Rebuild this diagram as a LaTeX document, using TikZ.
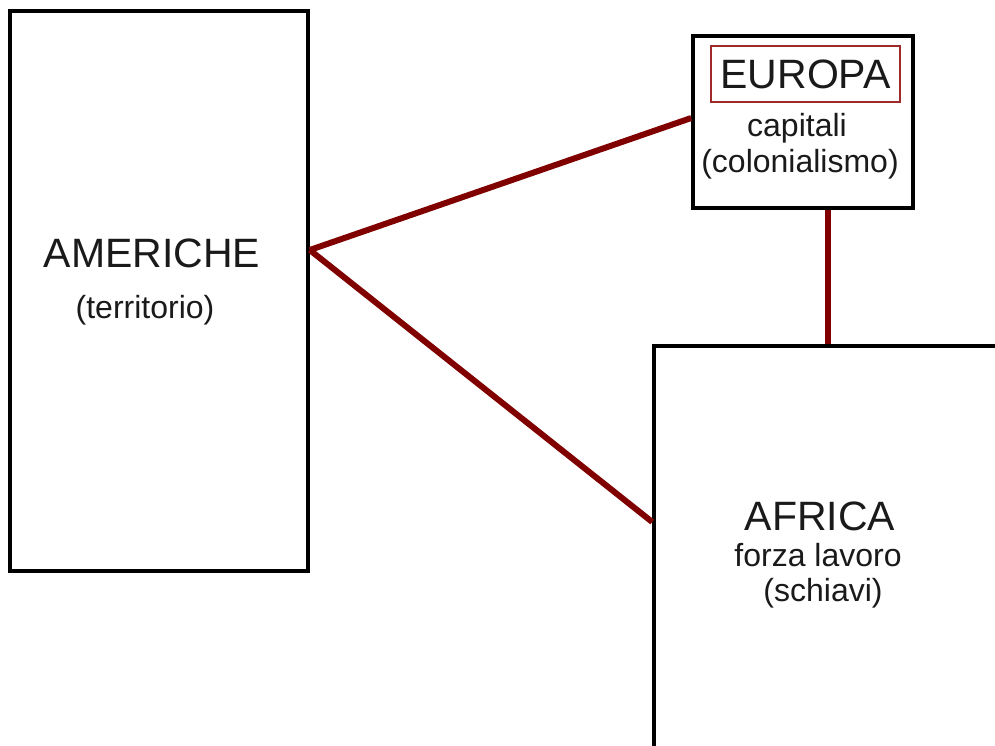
\documentclass[tikz,border=0pt]{standalone}
\usepackage{fontspec}
\setmainfont{Liberation Sans}
\usepackage{xcolor}
\usetikzlibrary{calc, positioning}
\definecolor{linkRed}{HTML}{800000}
\definecolor{frameRed}{HTML}{9E2A2A}
\definecolor{inkGray}{HTML}{1A1A1A}

\begin{document}
\begin{tikzpicture}[
    x=1pt, y=-1pt,
    box/.style={rectangle, draw=black, line width=3.5pt, fill=white, inner sep=0pt},
    bigtxt/.style={font=\fontsize{41}{49}\selectfont, text=inkGray, inner sep=0pt, anchor=base},
    smalltxt/.style={font=\fontsize{32}{38}\selectfont, text=inkGray, inner sep=0pt, anchor=base},
    link/.style={line width=6pt, linkRed}
]
\useasboundingbox (0,0) rectangle (995,746);
\clip (0,0) rectangle (995,746);

% Boxes
\node[box, minimum width=298pt, minimum height=560pt] (americhe) at (159,291) {};
\node[box, minimum width=220pt, minimum height=172pt] (europa) at (803,122) {};
\node[box, minimum width=356pt, minimum height=414pt] (africa) at (832,553) {};

% Texts
\node[bigtxt] (amtitle) at (152,267) {AMERICHE};
\node[smalltxt] (amsub) at (145,318) {(territorio)};

\node[draw=frameRed, line width=2pt, minimum width=189pt, minimum height=56pt,
      inner sep=0pt, text=inkGray, font=\fontsize{41}{49}\selectfont] (eutitle) at (805.5,74) {EUROPA};
\node[smalltxt] (eusub) at (797,137) {capitali};
\node[smalltxt] (eusubb) at (800,173) {(colonialismo)};

\node[bigtxt] (aftitle) at (820,530) {AFRICA};
\node[smalltxt] (afsub) at (818,566) {forza lavoro};
\node[smalltxt] (afsubb) at (823,601) {(schiavi)};

% Edges
\coordinate (hub) at ([yshift=41pt]americhe.east);
\draw[link] (hub) -- ([yshift=4pt]europa.west);
\draw[link] (hub) -- ([yshift=31pt]africa.west);
\draw[link] ([xshift=25pt]europa.south) -- ([xshift=25pt]europa.south |- africa.north);

\end{tikzpicture}
\end{document}
